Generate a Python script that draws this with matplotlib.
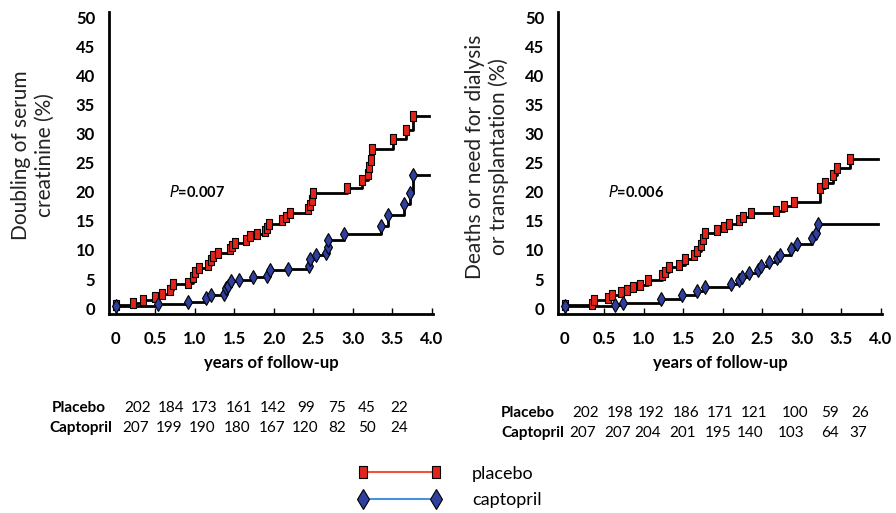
import matplotlib
matplotlib.use("Agg")
import matplotlib.pyplot as plt
from matplotlib.lines import Line2D
import numpy as np

plt.rcParams['font.family'] = ['Lato', 'DejaVu Sans']

# --- data (years, cumulative %) ---
end_year = 3.97

left_placebo_t = [0, 0.22, 0.35, 0.50, 0.59, 0.69, 0.73, 0.92, 0.98, 1.00, 1.05, 1.17, 1.21, 1.23,
                  1.30, 1.44, 1.47, 1.51, 1.65, 1.70, 1.79, 1.89, 1.92, 1.94, 2.10, 2.16, 2.21, 2.43,
                  2.46, 2.48, 2.50, 2.93, 3.12, 3.19, 3.20, 3.23, 3.24, 3.51, 3.67, 3.76]
left_placebo_y = [0.6, 0.9, 1.4, 1.9, 2.5, 3.2, 4.1, 4.4, 5.4, 6.2, 6.9, 7.4, 8.2, 8.9,
                  9.5, 10.1, 10.7, 11.2, 11.8, 12.4, 12.8, 13.2, 13.8, 14.5, 15.1, 15.7, 16.4, 17.0,
                  17.7, 18.6, 19.8, 20.7, 22.0, 23.0, 24.3, 25.5, 27.3, 29.0, 30.7, 33.0]

left_capto_t = [0, 0.54, 0.91, 1.14, 1.20, 1.37, 1.39, 1.42, 1.46, 1.56, 1.74, 1.92, 1.95,
                2.18, 2.45, 2.46, 2.53, 2.66, 2.68, 2.69, 2.89, 3.36, 3.45, 3.65, 3.72, 3.76]
left_capto_y = [0.3, 0.7, 1.1, 1.8, 2.3, 2.5, 3.4, 3.8, 4.6, 4.8, 5.3, 5.5, 6.6,
                6.8, 7.2, 8.5, 9.2, 9.4, 10.5, 11.7, 12.8, 14.1, 16.0, 17.9, 19.8, 22.9]

right_placebo_t = [0, 0.34, 0.37, 0.55, 0.60, 0.71, 0.79, 0.87, 0.95, 1.05, 1.23, 1.27, 1.32,
                   1.45, 1.52, 1.64, 1.67, 1.72, 1.75, 1.77, 1.93, 2.01, 2.08, 2.20, 2.25, 2.36,
                   2.67, 2.78, 2.90, 3.23, 3.29, 3.39, 3.45, 3.61]
right_placebo_y = [0.6, 0.8, 1.4, 1.8, 2.3, 2.7, 3.2, 3.6, 4.0, 4.9, 5.7, 6.2, 7.1,
                   7.5, 8.4, 9.1, 9.9, 10.9, 11.9, 13.0, 13.5, 14.0, 14.4, 15.1, 15.6, 16.3,
                   16.7, 17.6, 18.3, 20.6, 21.5, 22.9, 24.1, 25.6]

right_capto_t = [0, 0.63, 0.74, 1.22, 1.48, 1.68, 1.78, 2.11, 2.20, 2.24, 2.33, 2.44, 2.48,
                 2.58, 2.69, 2.72, 2.86, 2.94, 3.13, 3.18, 3.21]
right_capto_y = [0.3, 0.5, 0.9, 1.5, 2.2, 2.9, 3.7, 4.1, 4.8, 5.4, 6.0, 6.6, 7.2,
                 8.0, 8.6, 9.1, 10.1, 11.1, 12.1, 13.0, 14.4]

ylabels = ["Doubling of serum\ncreatinine (%)",
           "Deaths or need for dialysis\nor transplantation (%)"]
pvalues = ["0.007", "0.006"]

left_placebo_n = ["202", "184", "173", "161", "142", "99", "75", "45", "22"]
left_capto_n = ["207", "199", "190", "180", "167", "120", "82", "50", "24"]
right_placebo_n = ["202", "198", "192", "186", "171", "121", "100", "59", "26"]
right_capto_n = ["207", "207", "204", "201", "195", "140", "103", "64", "37"]

# --- styles ---
red_fill = '#e3241b'
blue_fill = '#2f3f9e'
red_line = '#f0503c'
blue_line = '#4a90e0'
rect_marker = [(-0.32, -0.5), (0.32, -0.5), (0.32, 0.5), (-0.32, 0.5), (-0.32, -0.5)]

W, H = 896, 513
fig = plt.figure(figsize=(W / 100, H / 100), dpi=100)


def px(x, y):
    # pixel position -> figure fraction
    return x / W, 1 - y / H


def make_axes(left_px):
    ax = fig.add_axes([left_px / W, 1 - 314 / H, 324 / W, 302 / H])
    ax.set_xlim(-0.085, 4.015)
    ax.set_ylim(-1.0, 50.9)
    ax.set_xticks(np.arange(0, 4.01, 0.5))
    ax.set_xticklabels(['0', '0.5', '1.0', '1.5', '2.0', '2.5', '3.0', '3.5', '4.0'])
    ax.set_yticks(np.arange(0, 51, 5))
    for s in ['top', 'right']:
        ax.spines[s].set_visible(False)
    for s in ['left', 'bottom']:
        ax.spines[s].set_linewidth(2)
    ax.tick_params(axis='y', length=0, pad=10, labelsize=12)
    ax.tick_params(axis='x', direction='in', length=4, width=1, pad=12, labelsize=12)
    for lab in ax.get_xticklabels() + ax.get_yticklabels():
        lab.set_fontweight('bold')
    ax.set_xlabel('years of follow-up', fontsize=12, fontweight='bold', labelpad=6)
    return ax


def draw_curve(ax, t, y, marker, fill, ms):
    ax.plot(list(t) + [end_year], list(y) + [y[-1]], drawstyle='steps-post',
            color='black', lw=2, zorder=2)
    ax.plot(t, y, ls='none', marker=marker, ms=ms, mfc=fill, mec='black', mew=0.8, zorder=3)


ax1 = make_axes(109)
draw_curve(ax1, left_placebo_t, left_placebo_y, rect_marker, red_fill, 7)
draw_curve(ax1, left_capto_t, left_capto_y, 'd', blue_fill, 7.5)
ax1.text(1.03, 19.9, r'$\bf\it{P}$' + '=' + pvalues[0], fontsize=10.5, fontweight='bold',
         ha='center', va='center')

ax2 = make_axes(558)
draw_curve(ax2, right_placebo_t, right_placebo_y, rect_marker, red_fill, 7)
draw_curve(ax2, right_capto_t, right_capto_y, 'd', blue_fill, 7.5)
ax2.text(0.90, 19.9, r'$\bf\it{P}$' + '=' + pvalues[1], fontsize=10.5, fontweight='bold',
         ha='center', va='center')

fig.text(*px(33, 155), ylabels[0], rotation=90, ha='center', va='center', ma='center',
         fontsize=15, color='#222222')
fig.text(*px(487, 157), ylabels[1], rotation=90, ha='center', va='center', ma='center',
         fontsize=15, color='#222222')

# --- numbers at risk ---
left_cols = [138, 171, 204, 239, 273, 306, 337, 367, 399]
left_cols_c = [136, 169, 202, 237, 272, 305, 337, 367, 399]
right_cols = [586, 620, 651, 686, 720, 754, 795, 830, 860]
right_cols_c = [583, 618, 648, 683, 718, 750, 791, 830, 858]

rows = [
    (52, 408, 'Placebo', left_cols, left_placebo_n),
    (49, 428, 'Captopril', left_cols_c, left_capto_n),
    (501, 413, 'Placebo', right_cols, right_placebo_n),
    (501, 433, 'Captopril', right_cols_c, right_capto_n),
]
for x0, yrow, name, cols, nums in rows:
    fig.text(*px(x0, yrow), name, fontsize=11, fontweight='bold', ha='left', va='center')
    for xc, n in zip(cols, nums):
        fig.text(*px(xc, yrow), n, fontsize=11, ha='center', va='center')

# --- legend ---
handles = [
    Line2D([], [], color=red_line, lw=1.5, marker=rect_marker, ms=9, mfc=red_fill, mec='black', mew=0.8),
    Line2D([], [], color=blue_line, lw=1.5, marker='d', ms=10, mfc=blue_fill, mec='black', mew=0.8),
]
fig.legend(handles, ['placebo', 'captopril'], loc='center left', bbox_to_anchor=px(358, 487),
           frameon=False, numpoints=2, handlelength=4.6, handletextpad=1.7, labelspacing=0.6,
           fontsize=13, borderpad=0, borderaxespad=0)

fig.savefig('out.png', dpi=100)
